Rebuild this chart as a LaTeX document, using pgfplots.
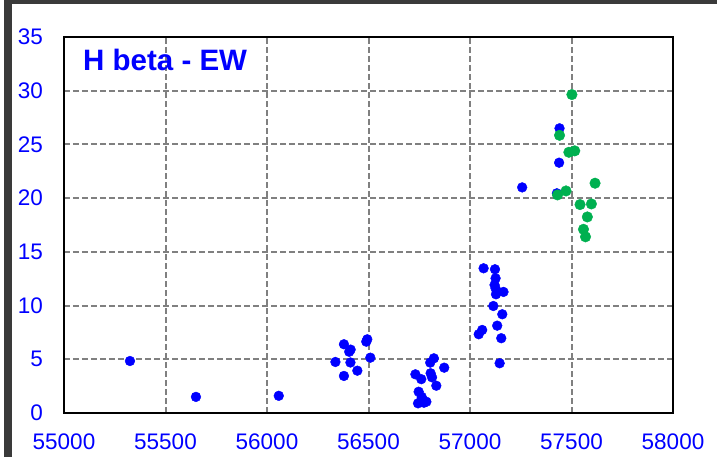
\documentclass[border=0pt]{standalone}
\usepackage{pgfplots}
\pgfplotsset{compat=1.18}
\usepackage{fontspec}
\setmainfont{Liberation Sans}
\definecolor{ewgreen}{RGB}{0,176,80}
\definecolor{gridgray}{RGB}{128,128,128}
\definecolor{frame}{RGB}{58,58,58}
\begin{document}
\begin{tikzpicture}[x=1pt,y=1pt]
\path[use as bounding box] (-64,-44) rectangle (653,413);
\fill[frame] (-60,-44) rectangle (-52,413);
\fill[frame] (-60,409) rectangle (653,413);
\begin{axis}[
  at={(0,0)}, anchor=south west,
  scale only axis, width=609pt, height=376pt,
  xmin=55000, xmax=58000, ymin=0, ymax=35,
  xtick={55000,55500,...,58000},
  ytick={0,5,...,35},
  scaled x ticks=false,
  /pgf/number format/1000 sep={},
  /pgf/number format/assume math mode=true,
  major tick length=0pt,
  tick label style={font=\fontsize{22.5}{26}\selectfont, text=blue, inner sep=0pt},
  xticklabel style={anchor=north, yshift=-21pt},
  yticklabel style={anchor=east, xshift=-21pt},
  grid=major,
  major grid style={gridgray, line width=2pt, dash pattern=on 6pt off 3pt},
  axis line style={black, line width=2.2pt},
  clip=false,
]
\addplot[only marks, mark=*, mark size=4.9pt, blue, mark options={draw=blue, fill=blue}] coordinates {
(55325,4.84) (55650,1.5) (56058,1.6)
(56337,4.75) (56379,6.4) (56405,5.7) (56412,5.9) (56411,4.7) (56445,3.94) (56379,3.45)
(56494,6.86) (56489,6.64) (56509,5.15)
(56731,3.6) (56760,3.15) (56804,4.69) (56822,5.09) (56873,4.22) (56806,3.7) (56813,3.32)
(56834,2.54) (56747,1.98) (56762,1.5) (56773,0.96) (56744,0.9) (56785,1.05) (56760,1.2)
(57043,7.33) (57060,7.73) (57067,13.47) (57123,13.38) (57126,12.54) (57121,11.92) (57126,11.6)
(57128,11.05) (57165,11.27) (57115,9.96) (57159,9.19) (57134,8.13) (57154,6.96) (57146,4.63)
(57257,21.0) (57428,20.45) (57439,23.3) (57441,26.5)
};
\addplot[only marks, mark=*, mark size=5.3pt, ewgreen, mark options={draw=ewgreen, fill=ewgreen}] coordinates {
(57502,29.64) (57441,25.85) (57487,24.27) (57516,24.4) (57473,20.67) (57431,20.3)
(57616,21.39) (57542,19.4) (57598,19.46) (57578,18.25) (57559,17.1) (57569,16.4)
};
\node[anchor=base west, inner sep=0pt, text=blue, font=\fontsize{29.5}{34}\selectfont\bfseries] at (rel axis cs:0.0312,0.9096) {H beta - EW};
\end{axis}
\end{tikzpicture}
\end{document}
